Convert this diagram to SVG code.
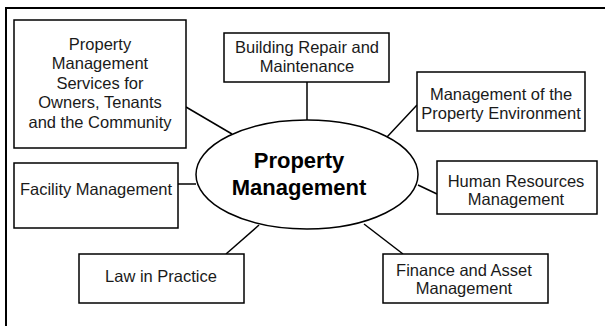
<svg xmlns="http://www.w3.org/2000/svg" width="605" height="326" viewBox="0 0 605 326">
<style>
.box{fill:#fff;stroke:#000;stroke-width:1.5}
.t{font-family:"Liberation Sans",Arial,sans-serif;font-size:16.5px;fill:#1a1a1a;text-anchor:middle}
.c{font-family:"Liberation Sans",Arial,sans-serif;font-size:22px;font-weight:bold;fill:#000;text-anchor:middle}
.ln{stroke:#000;stroke-width:1.5;fill:none}
</style>
<rect width="605" height="326" fill="#fff"/>
<path d="M6,340 V8 H606" fill="none" stroke="#000" stroke-width="2"/>
<g id="connectors">
<line class="ln" x1="186" y1="107" x2="232" y2="134"/>
<line class="ln" x1="307" y1="82" x2="307" y2="120"/>
<line class="ln" x1="417" y1="105" x2="387" y2="137"/>
<line class="ln" x1="437" y1="194" x2="418" y2="185"/>
<line class="ln" x1="178" y1="184" x2="196" y2="184"/>
<line class="ln" x1="226" y1="254" x2="259" y2="225"/>
<line class="ln" x1="403" y1="254" x2="364" y2="224"/>
</g>
<g id="center">
<ellipse cx="307" cy="174.5" rx="111" ry="54.5" fill="#fff" stroke="#000" stroke-width="1.5"/>
<text class="c" x="299" y="168">Property</text>
<text class="c" x="299" y="195">Management</text>
</g>
<g id="services">
<rect class="box" x="14" y="20" width="172" height="128" stroke-width="2"/>
<text class="t" x="100" y="49.5">Property</text>
<text class="t" x="100" y="69">Management</text>
<text class="t" x="100" y="88.5">Services for</text>
<text class="t" x="100" y="108">Owners, Tenants</text>
<text class="t" x="100" y="127.5">and the Community</text>
</g>
<g id="building">
<rect class="box" x="224" y="33" width="165" height="49"/>
<text class="t" x="307" y="53.3">Building Repair and</text>
<text class="t" x="307" y="71.7">Maintenance</text>
</g>
<g id="environment">
<rect class="box" x="417" y="72" width="168" height="59"/>
<text class="t" x="501" y="100">Management of the</text>
<text class="t" x="501" y="119">Property Environment</text>
</g>
<g id="hr">
<rect class="box" x="437" y="161" width="160" height="53"/>
<text class="t" x="516" y="186.5">Human Resources</text>
<text class="t" x="516" y="204.5">Management</text>
</g>
<g id="facility">
<rect class="box" x="14" y="163" width="164" height="65"/>
<text class="t" x="96" y="195">Facility Management</text>
</g>
<g id="law">
<rect class="box" x="79" y="254" width="165" height="49"/>
<text class="t" x="161" y="282">Law in Practice</text>
</g>
<g id="finance">
<rect class="box" x="383" y="254" width="165" height="49"/>
<text class="t" x="464" y="276">Finance and Asset</text>
<text class="t" x="464" y="293.5">Management</text>
</g>
</svg>
